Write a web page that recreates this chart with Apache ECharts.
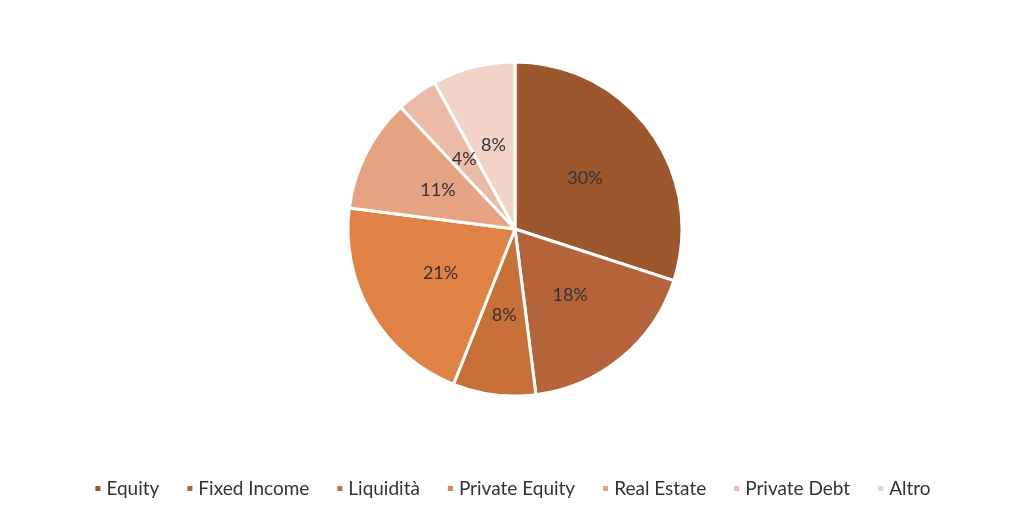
<!DOCTYPE html><html><head><meta charset="utf-8"><script src="https://cdn.jsdelivr.net/npm/echarts@6/dist/echarts.min.js"></script></head><body style="margin:0;background:#fff"><div id="c" style="width:1024px;height:521px"></div><script>
const categories=["Equity","Fixed Income","Liquidità","Private Equity","Real Estate","Private Debt","Altro"];
const values=[30,18,8,21,11,4,8];
const colors=["#9C582C","#B5633A","#C8703A","#E08245","#E5A381","#EBBBA8","#F2D3C8"];
const ch=echarts.init(document.getElementById('c'));
ch.setOption({
 color:colors,animation:false,
 legend:{bottom:18,left:'center',icon:'rect',itemWidth:7,itemHeight:7,itemGap:26,textStyle:{fontFamily:'Lato',fontSize:19,color:'#333'},data:categories},
 series:[{type:'pie',center:[515,229],radius:[0,167],startAngle:90,clockwise:true,
  itemStyle:{borderColor:'#fff',borderWidth:3},
  label:{position:'inside',formatter:'{c}%',fontFamily:'Lato',fontSize:18,color:'#333'},
  labelLine:{show:false},
  data:categories.map((n,i)=>({name:n,value:values[i]}))}]
});
</script></body></html>
